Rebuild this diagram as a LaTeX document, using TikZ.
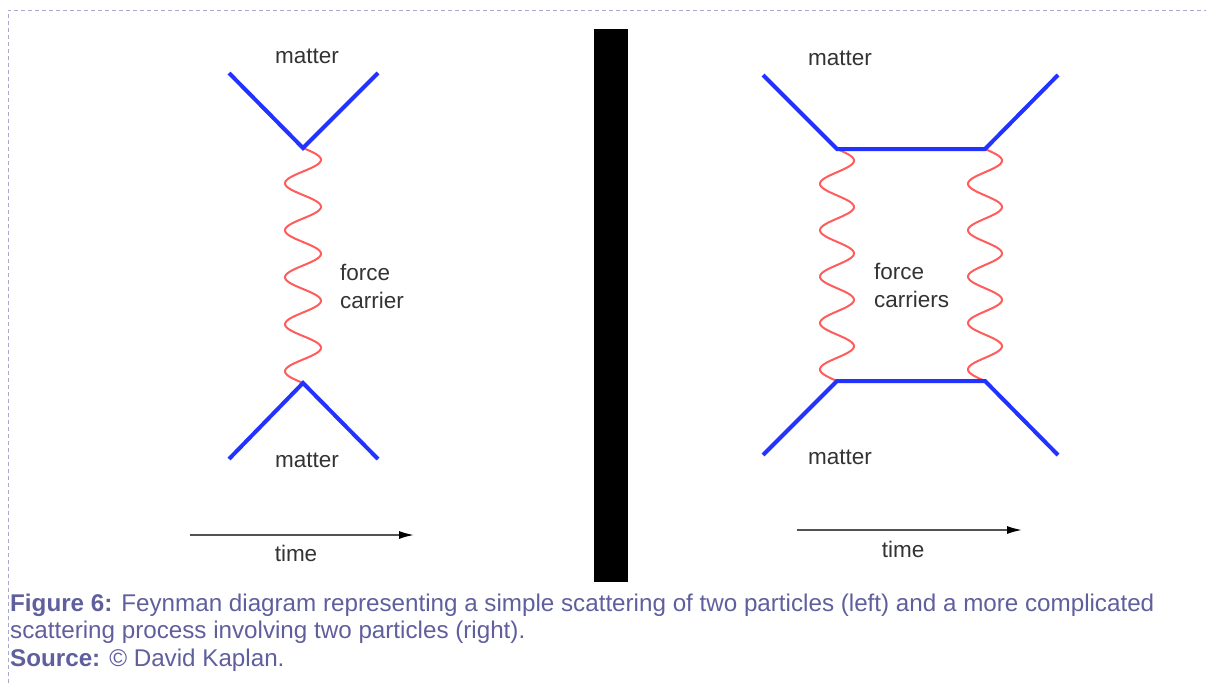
\documentclass[tikz,border=0pt]{standalone}
\usepackage{fontspec}
\setmainfont{Liberation Sans}
\usetikzlibrary{arrows.meta,calc}
\definecolor{quark}{HTML}{2233FF}
\definecolor{boson}{HTML}{FF5C5C}
\definecolor{captext}{HTML}{5F5F9E}
\definecolor{framing}{HTML}{A9A9CF}
\definecolor{ink}{HTML}{333333}
\tikzset{
  matterline/.style={draw=quark, line width=4pt},
  carrier/.style={draw=boson, line width=2pt},
  timearrow/.style={draw=ink!85, line width=1.6pt, -{Latex[length=15pt,width=8pt,black]}},
  lbl/.style={text=ink, font=\fontsize{22.5}{28}\selectfont, inner sep=0pt},
  capt/.style={text=captext, font=\fontsize{24.2}{27}\selectfont, anchor=base west, inner sep=0pt}
}
% wavy line between two named points, amplitude #3
\newcommand{\wavyline}[3]{%
  \draw[carrier] let \p1=(#1), \p2=(#2) in
    plot[domain=0:1, samples=200, variable=\t]
      ({\x1+#3pt*sin(1800*\t)}, {\y1+(\y2-\y1)*\t});
}

\begin{document}
\begin{tikzpicture}[x=1pt, y=-1pt]
        \useasboundingbox (0,0) rectangle (1206,683);
        \draw[framing, line width=1pt, dash pattern=on 4pt off 3pt] (8,683) -- (8,10) -- (1206,10);

        % simple scattering
        \coordinate (aL) at (229,73);
        \coordinate (bL) at (378,73);
        \coordinate (vL1) at (303,148);
        \coordinate (vL2) at (303,383);
        \coordinate (cL) at (229,459);
        \coordinate (dL) at (378,459);
        \wavyline{vL1}{vL2}{18}
        \draw[matterline] (aL) -- (vL1) -- (bL);
        \draw[matterline] (cL) -- (vL2) -- (dL);
        \node[lbl] (mtopL) at (307,56) {matter};
        \node[lbl] (mbotL) at (307,460) {matter};
        \node[lbl, align=left, anchor=west] (forceL) at (340,286) {force\\carrier};
        \coordinate (tL0) at (190,535);
        \coordinate (tL1) at (414,535);
        \draw[timearrow] (tL0) -- (tL1);
        \node[lbl] (timeL) at (296,553) {time};

        % separator
        \fill[black] (594,29) rectangle (628,582);

        % two carriers
        \coordinate (aR) at (763,75);
        \coordinate (bR) at (1058,75);
        \coordinate (vR1) at (837,149);
        \coordinate (vR2) at (985,149);
        \coordinate (vR3) at (837,381);
        \coordinate (vR4) at (985,381);
        \coordinate (cR) at (763,455);
        \coordinate (dR) at (1058,455);
        \wavyline{vR1}{vR3}{17}
        \wavyline{vR2}{vR4}{17}
        \draw[matterline] (aR) -- (vR1) -- (vR2) -- (bR);
        \draw[matterline] (cR) -- (vR3) -- (vR4) -- (dR);
        \node[lbl] (mtopR) at (840,58) {matter};
        \node[lbl] (mbotR) at (840,457) {matter};
        \node[lbl, align=left, anchor=west] (forceR) at (874,285) {force\\carriers};
        \coordinate (tR0) at (797,530);
        \coordinate (tR1) at (1022,530);
        \draw[timearrow] (tR0) -- (tR1);
        \node[lbl] (timeR) at (903,549) {time};

        % caption
        \node[capt] (cap1) at (10,611) {\textbf{Figure 6:} Feynman diagram representing a simple scattering of two particles (left) and a more complicated};
        \node[capt] (cap2) at (10,638) {scattering process involving two particles (right).};
        \node[capt] (cap3) at (10,666) {\textbf{Source:} © David Kaplan.};
      \end{tikzpicture}
\end{document}
